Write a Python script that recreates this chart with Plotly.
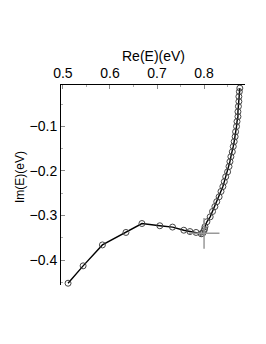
import plotly.graph_objects as go

re_vals = [0.511, 0.543, 0.584, 0.634, 0.668, 0.706, 0.733, 0.757, 0.770, 0.783, 0.794,
           0.797, 0.799, 0.801, 0.802, 0.806, 0.813, 0.818, 0.823, 0.827, 0.832, 0.836,
           0.840, 0.843, 0.846, 0.850, 0.853, 0.855, 0.857, 0.860, 0.862, 0.864, 0.866,
           0.867, 0.869, 0.870, 0.872, 0.872, 0.873, 0.874, 0.874, 0.875, 0.876]
im_vals = [-0.452, -0.413, -0.366, -0.338, -0.318, -0.323, -0.326, -0.333, -0.336, -0.338, -0.341,
           -0.340, -0.336, -0.331, -0.325, -0.314, -0.303, -0.291, -0.280, -0.269, -0.258, -0.246,
           -0.235, -0.224, -0.213, -0.202, -0.190, -0.179, -0.168, -0.157, -0.145, -0.134, -0.123,
           -0.112, -0.100, -0.089, -0.078, -0.067, -0.055, -0.044, -0.033, -0.022, -0.014]
cross_re = [0.8]
cross_im = [-0.34]
x_title = "Re(E)(eV)"
y_title = "Im(E)(eV)"

font = "Liberation Sans, Arial, sans-serif"

fig = go.Figure()
fig.add_trace(go.Scatter(
    x=re_vals, y=im_vals, mode="lines+markers", cliponaxis=False,
    line=dict(color="black", width=1.4),
    marker=dict(symbol="circle-open", size=6, color="#444444", line=dict(width=1, color="#444444")),
    showlegend=False, hoverinfo="skip"))
fig.add_trace(go.Scatter(
    x=cross_re, y=cross_im, mode="markers", cliponaxis=False,
    marker=dict(symbol="cross-thin-open", size=22, color="#999999", line=dict(width=1.5, color="#999999")),
    showlegend=False, hoverinfo="skip"))

fig.add_annotation(text=x_title, xref="paper", yref="paper", x=0.5, y=1,
                   xanchor="center", yanchor="middle", yshift=29, showarrow=False,
                   font=dict(size=14, family=font, color="black"))
fig.add_annotation(text=y_title, xref="paper", yref="paper", x=0, y=0.54,
                   xanchor="center", yanchor="middle", xshift=-41, textangle=-90, showarrow=False,
                   font=dict(size=12, family=font, color="black"))

fig.update_layout(
    width=258, height=336,
    margin=dict(l=53, r=21, t=77, b=59),
    paper_bgcolor="white", plot_bgcolor="white",
    font=dict(family=font, size=14, color="black"),
    xaxis=dict(
        side="top", range=[0.496, 0.887], automargin=False,
        tickvals=[0.5, 0.6, 0.7, 0.8], ticktext=["0.5", "0.6", "0.7", "0.8"],
        ticks="inside", ticklen=4, tickcolor="#888888",
        minor=dict(ticks="inside", ticklen=2, tickcolor="#aaaaaa", dtick=0.05),
        showline=True, linecolor="black", linewidth=1, mirror=False,
        showgrid=False, zeroline=False,
        tickfont=dict(size=14),
    ),
    yaxis=dict(
        range=[-0.456, -0.007], automargin=False,
        tickvals=[-0.1, -0.2, -0.3, -0.4], ticktext=["\u22120.1", "\u22120.2", "\u22120.3", "\u22120.4"],
        ticks="inside", ticklen=4, tickcolor="#888888",
        minor=dict(ticks="inside", ticklen=2, tickcolor="#aaaaaa", dtick=0.05),
        showline=True, linecolor="black", linewidth=1, mirror=False,
        showgrid=False, zeroline=False,
        tickfont=dict(size=14),
    ),
)
fig.write_html("out.html")
